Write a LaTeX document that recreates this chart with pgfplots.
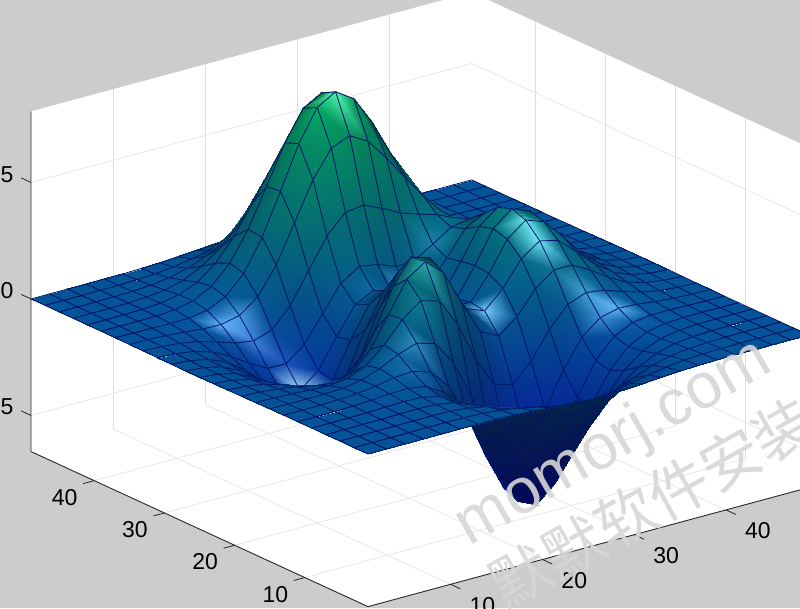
\documentclass[border=0pt]{standalone}
\usepackage{fontspec}
\setmainfont{Liberation Sans}
\newfontfamily\cjk{Noto Sans CJK SC}
\usepackage{pgfplots}
\pgfplotsset{compat=1.18}
\definecolor{bggray}{RGB}{204,204,204}
\definecolor{gridc}{RGB}{222,222,222}
\definecolor{edgec}{RGB}{0,22,100}
\definecolor{wm}{RGB}{214,214,214}
\definecolor{axc}{RGB}{40,40,40}
\makeatletter
\foreach \row [count=\j] in {
{0,0,0,0,0,.01,0,0,-.03,-.07,-.14,-.20,-.24,-.25,-.22,-.17,-.11,-.06,-.03,-.01,0,0,0,0,0},
{0,0,0,0,.01,.01,0,-.02,-.10,-.22,-.39,-.56,-.68,-.69,-.61,-.46,-.30,-.17,-.08,-.03,-.01,0,0,0,0},
{0,0,0,.01,.01,.02,0,-.07,-.23,-.53,-.92,-1.31,-1.57,-1.60,-1.41,-1.06,-.69,-.38,-.18,-.08,-.03,-.01,0,0,0},
{0,0,.01,.01,.03,.04,.01,-.12,-.44,-.99,-1.74,-2.51,-3.02,-3.10,-2.72,-2.05,-1.32,-.73,-.35,-.14,-.05,-.01,0,0,0},
{0,0,.01,.02,.05,.07,.05,-.13,-.59,-1.45,-2.64,-3.88,-4.76,-4.93,-4.35,-3.27,-2.10,-1.15,-.53,-.20,-.06,-.01,0,0,0},
{0,0,.01,.03,.07,.13,.15,.02,-.46,-1.48,-3.00,-4.69,-5.97,-6.33,-5.64,-4.24,-2.69,-1.42,-.61,-.20,-.04,0,.01,0,0},
{0,0,.01,.03,.08,.18,.33,.39,.15,-.68,-2.19,-4.08,-5.68,-6.33,-5.76,-4.32,-2.64,-1.27,-.44,-.07,.04,.05,.03,.01,0},
{0,-.01,-.01,-.01,.03,.17,.45,.84,1.11,.88,-.14,-1.85,-3.60,-4.60,-4.40,-3.22,-1.74,-.56,.08,.27,.23,.13,.06,.02,.01},
{-.01,-.02,-.06,-.10,-.13,-.04,.30,.98,1.86,2.45,2.22,1.00,-.72,-2.02,-2.22,-1.43,-.27,.58,.88,.77,.50,.26,.11,.04,.01},
{-.02,-.05,-.12,-.25,-.42,-.51,-.28,.49,1.78,3.09,3.63,2.94,1.40,-.01,-.41,.20,1.18,1.79,1.78,1.35,.82,.41,.18,.06,.02},
{-.03,-.08,-.20,-.44,-.80,-1.16,-1.21,-.60,.80,2.49,3.55,3.30,2.00,.70,.39,1.14,2.20,2.76,2.56,1.88,1.12,.56,.24,.09,.03},
{-.03,-.10,-.27,-.60,-1.14,-1.78,-2.16,-1.84,-.57,1.23,2.56,2.63,1.58,.53,.48,1.50,2.76,3.37,3.09,2.25,1.34,.67,.28,.10,.03},
{-.04,-.11,-.30,-.69,-1.33,-2.14,-2.77,-2.71,-1.65,.06,1.48,1.75,.98,.19,.37,1.57,2.94,3.58,3.27,2.37,1.41,.70,.30,.11,.03},
{-.04,-.11,-.29,-.67,-1.32,-2.16,-2.87,-2.98,-2.15,-.65,.68,1.06,.52,-.03,.28,1.47,2.76,3.36,3.06,2.22,1.32,.66,.28,.10,.03},
{-.03,-.09,-.25,-.57,-1.12,-1.85,-2.49,-2.64,-2.00,-.76,.39,.80,.46,.09,.38,1.34,2.38,2.83,2.56,1.84,1.09,.54,.23,.08,.03},
{-.02,-.07,-.18,-.42,-.82,-1.33,-1.76,-1.78,-1.16,-.05,1.04,1.55,1.42,1.12,1.17,1.65,2.17,2.32,1.99,1.40,.82,.40,.17,.06,.02},
{-.01,-.04,-.11,-.25,-.48,-.74,-.86,-.60,.23,1.51,2.79,3.59,3.69,3.34,2.93,2.66,2.43,2.08,1.58,1.04,.58,.28,.11,.04,.01},
{-.01,-.02,-.06,-.12,-.20,-.22,-.05,.55,1.69,3.29,4.92,6.07,6.39,5.94,5.02,3.97,2.97,2.09,1.35,.79,.41,.19,.07,.03,.01},
{0,-.01,-.02,-.03,-.01,.11,.48,1.27,2.61,4.37,6.20,7.54,8.00,7.48,6.25,4.72,3.25,2.05,1.19,.62,.29,.12,.05,.02,0},
{0,0,0,.01,.07,.24,.65,1.43,2.67,4.29,5.96,7.22,7.67,7.19,5.99,4.45,2.96,1.78,.96,.47,.21,.08,.03,.01,0},
{0,0,.01,.02,.08,.23,.55,1.16,2.10,3.31,4.56,5.51,5.86,5.50,4.57,3.37,2.21,1.29,.68,.32,.13,.05,.02,0,0},
{0,0,0,.02,.06,.15,.36,.74,1.32,2.07,2.84,3.43,3.65,3.43,2.84,2.09,1.36,.79,.41,.19,.08,.03,.01,0,0},
{0,0,0,.01,.03,.08,.19,.39,.69,1.07,1.47,1.77,1.88,1.77,1.47,1.08,.70,.40,.20,.09,.04,.01,0,0,0},
{0,0,0,.01,.01,.04,.08,.17,.30,.47,.64,.77,.82,.77,.64,.47,.30,.17,.09,.04,.02,.01,0,0,0},
{0,0,0,0,.01,.01,.03,.06,.11,.17,.23,.28,.30,.28,.23,.17,.11,.06,.03,.01,.01,0,0,0,0}%
}{%
  \foreach \v [count=\i] in \row {\expandafter\xdef\csname zz\i.\j\endcsname{\v}}%
}
\newcommand\ZZ[2]{\csname zz#1.#2\endcsname}
\gdef\coords{}
% colour of each vertex: lit like the reference (light, half vector, winter colormap)
\foreach \j in {1,...,25}{%
 \foreach \i in {1,...,25}{%
  \pgfmathtruncatemacro\il{max(\i-1,1)}%
  \pgfmathtruncatemacro\ir{min(\i+1,25)}%
  \pgfmathtruncatemacro\jl{max(\j-1,1)}%
  \pgfmathtruncatemacro\jr{min(\j+1,25)}%
  \pgfmathsetmacro\nx{-2.17*((\ZZ{\ir}{\j})-(\ZZ{\il}{\j}))/((\ir-\il)*2)}%
  \pgfmathsetmacro\ny{-2.17*((\ZZ{\i}{\jr})-(\ZZ{\i}{\jl}))/((\jr-\jl)*2)}%
  \pgfmathsetmacro\nn{sqrt(\nx*\nx+\ny*\ny+1)}%
  \pgfmathsetmacro\sgn{(-0.569*\nx-0.741*\ny+0.358)<0?-1:1}%
  \pgfmathsetmacro\dif{max(0,\sgn*(-0.2*\nx-0.35*\ny+0.915)/\nn)}%
  \pgfmathsetmacro\spc{max(0.02,\sgn*(-0.15*\nx-0.53*\ny+0.83)/\nn)}%
  \pgfmathsetmacro\spw{0.95*pow(\spc,60)}%
  \pgfmathsetmacro\tt{((\ZZ{\i}{\j})+6.55)/14.65}%
  \pgfmathsetmacro\fac{0.33+0.43*\dif}%
  \pgfmathsetmacro\cr{round(100*min(0.97,0.02+\spw))/100}%
  \pgfmathsetmacro\cg{round(100*min(0.97,0.02+0.95*\tt*\fac+\spw))/100}%
  \pgfmathsetmacro\cb{round(100*min(0.97,1.06*(1-\tt/2)*\fac+\spw))/100}%
  \pgfmathtruncatemacro\XX{2*\i-1}%
  \pgfmathtruncatemacro\YY{2*\j-1}%
  \xdef\coords{\coords (\XX,\YY,\ZZ{\i}{\j}) [rgb=\cr,\cg,\cb] }%
 }%
}
\makeatother
\pgfplotsset{mysurf/.style={surf,mesh/rows=25,mesh/color input=explicit,
  shader=faceted interp,faceted color=edgec,line width=0.8pt,z buffer=auto}}
\begin{document}
\begin{tikzpicture}
\useasboundingbox (0,0) rectangle (800pt,608pt);
\fill[bggray] (0,0) rectangle (800pt,608pt);
\begin{scope}
\clip (0,0) rectangle (800pt,608pt);
\begin{axis}[
  at={(368pt,154pt)},anchor=origin,
  x={(9.18pt,2.48pt)},y={(-7.02pt,3.23pt)},z={(0pt,23.3pt)},
  xmin=1,xmax=49,ymin=1,ymax=49,zmin=-6.55,zmax=8.05,
  xtick={10,20,30,40},ytick={10,20,30,40},ztick={-5,0,5},
  xtick pos=lower,ytick pos=lower,ztick pos=left,
  grid=major,major grid style={gridc,line width=0.5pt},
  axis background/.style={fill=white},
  tick align=outside,major tick length=10pt,
  tick style={draw=none},
  axis line style={draw=none},
  clip=false,
  tick label style={font=\fontsize{23}{23}\selectfont},
  xticklabel style={xshift=14pt,yshift=-3pt},
  yticklabel style={xshift=-9pt},
  zticklabel style={xshift=-5pt,yshift=3pt},
  /pgf/number format/assume math mode=true,
]
\edef\tmp{\noexpand\addplot3[mysurf] coordinates {\coords};}\tmp
\draw[axc,line width=0.9pt] (axis cs:49,1,-6.55) -- (axis cs:1,1,-6.55) -- (axis cs:1,49,-6.55) -- (axis cs:1,49,8.05);
\pgfplotsinvokeforeach{10,20,30,40}{
  \draw[axc,line width=0.8pt] (axis cs:#1,1,-6.55) -- (axis cs:#1,-0.4,-6.55);
  \draw[axc,line width=0.8pt] (axis cs:1,#1,-6.55) -- (axis cs:-0.2,#1,-6.55);
}
\pgfplotsinvokeforeach{-5,0,5}{
  \draw[axc,line width=0.8pt] (axis cs:1,49,#1) -- (axis cs:1,50.4,#1);
}
\end{axis}
\end{scope}
\begin{scope}
\clip (0,0) rectangle (800pt,608pt);
\node[rotate=30,text=wm,opacity=0.9,font=\fontsize{64}{64}\selectfont] at (614pt,164pt) {momorj.com};
\node[rotate=29,text=wm,opacity=0.9,font=\cjk\fontsize{60}{60}\selectfont] at (652pt,105pt) {默默软件安装};
\end{scope}
\end{tikzpicture}
\end{document}
